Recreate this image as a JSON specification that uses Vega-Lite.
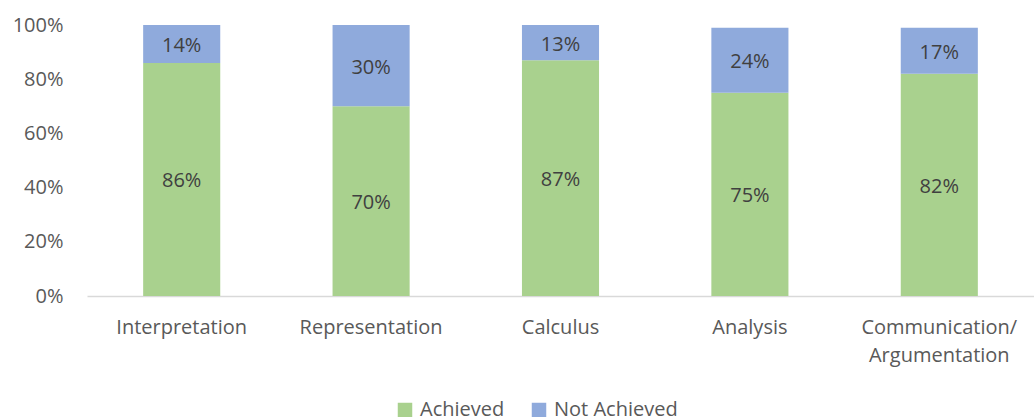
{
  "$schema": "https://vega.github.io/schema/vega-lite/v6.json",
  "autosize": {"type": "none"},
  "width": 947,
  "height": 271,
  "padding": {"left": 87, "top": 25, "right": 0, "bottom": 121},
  "background": "white",
  "config": {
    "view": {"stroke": null},
    "font": "Open Sans"
  },
  "data": {
    "values": [
      {"category": "Interpretation", "status": "Achieved", "order": 1, "value": 0.86},
      {"category": "Interpretation", "status": "Not Achieved", "order": 2, "value": 0.14},
      {"category": "Representation", "status": "Achieved", "order": 1, "value": 0.70},
      {"category": "Representation", "status": "Not Achieved", "order": 2, "value": 0.30},
      {"category": "Calculus", "status": "Achieved", "order": 1, "value": 0.87},
      {"category": "Calculus", "status": "Not Achieved", "order": 2, "value": 0.13},
      {"category": "Analysis", "status": "Achieved", "order": 1, "value": 0.75},
      {"category": "Analysis", "status": "Not Achieved", "order": 2, "value": 0.24},
      {"category": "Communication/Argumentation", "status": "Achieved", "order": 1, "value": 0.82},
      {"category": "Communication/Argumentation", "status": "Not Achieved", "order": 2, "value": 0.17}
    ]
  },
  "encoding": {
    "x": {
      "field": "category",
      "type": "nominal",
      "sort": null,
      "scale": {"paddingInner": 0, "paddingOuter": 0},
      "axis": {
        "title": null,
        "labelAngle": 0,
        "ticks": false,
        "domainColor": "#d9d9d9",
        "domainWidth": 1.5,
        "labelColor": "#595959",
        "labelFontSize": 20,
        "labelPadding": 31,
        "labelLineHeight": 28,
        "labelBaseline": "middle",
        "labelExpr": "datum.value == 'Communication/Argumentation' ? ['Communication/', 'Argumentation'] : datum.label"
      }
    }
  },
  "layer": [
    {
      "mark": {"type": "bar", "width": {"band": 0.407}},
      "encoding": {
        "y": {
          "field": "value",
          "type": "quantitative",
          "stack": "zero",
          "scale": {"domain": [0, 1]},
          "axis": {
            "title": null,
            "format": ".0%",
            "values": [0, 0.2, 0.4, 0.6, 0.8, 1],
            "grid": false,
            "domain": false,
            "ticks": false,
            "labelColor": "#595959",
            "labelFontSize": 20,
            "labelPadding": 24
          }
        },
        "color": {
          "field": "status",
          "type": "nominal",
          "scale": {"domain": ["Achieved", "Not Achieved"], "range": ["#a9d18e", "#8faadc"]},
          "legend": {
            "title": null,
            "orient": "none",
            "direction": "horizontal",
            "legendX": 308,
            "legendY": 375,
            "symbolType": "square",
            "symbolSize": 210,
            "symbolStrokeWidth": 0,
            "labelFontSize": 20,
            "labelColor": "#595959",
            "labelOffset": 5,
            "columnPadding": 24
          }
        },
        "order": {"field": "order", "type": "quantitative"}
      }
    },
    {
      "mark": {"type": "text", "fontSize": 20, "color": "#404040", "baseline": "middle", "dy": 2},
      "encoding": {
        "y": {"field": "value", "type": "quantitative", "stack": "zero", "bandPosition": 0.5},
        "text": {"field": "value", "type": "quantitative", "format": ".0%"},
        "order": {"field": "order", "type": "quantitative"}
      }
    }
  ]
}
